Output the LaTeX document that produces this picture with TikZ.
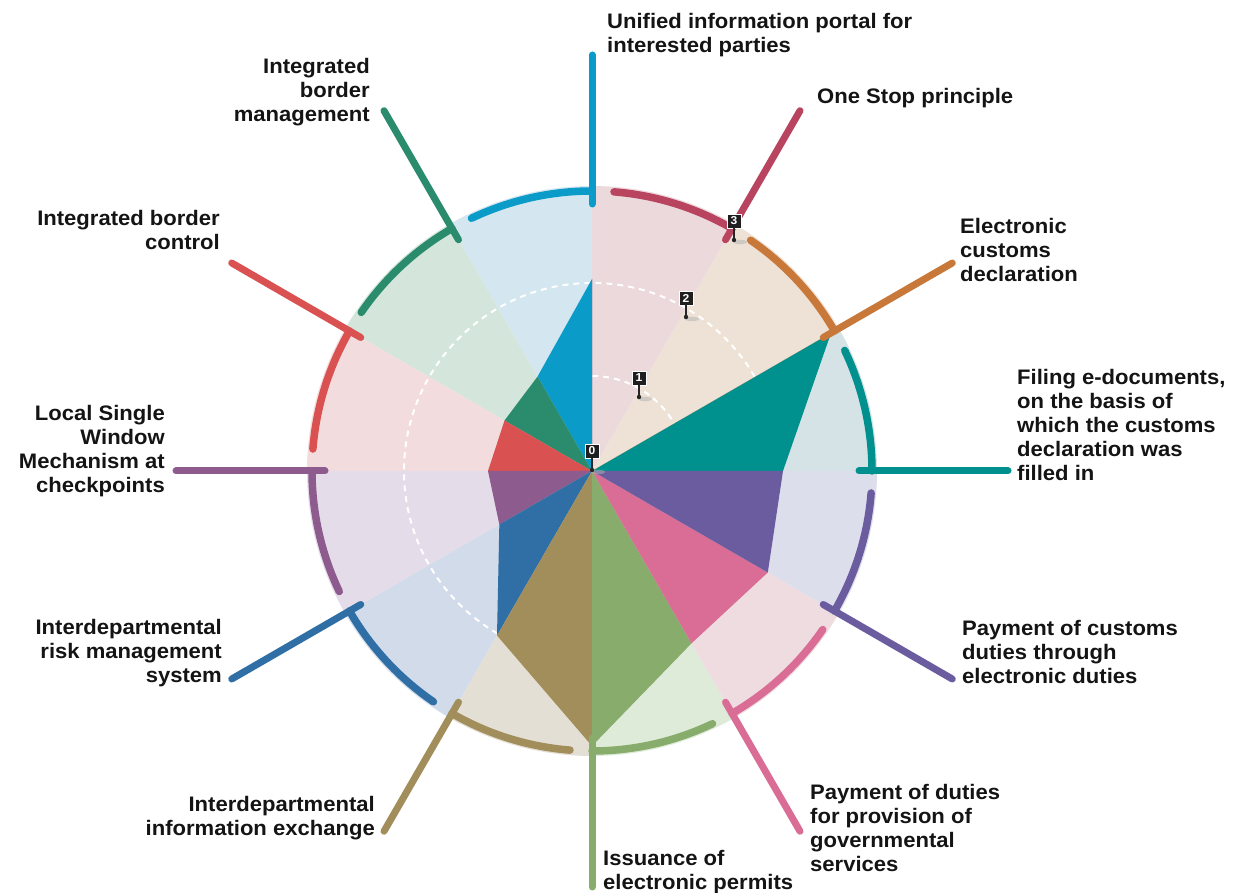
\documentclass[tikz,border=0pt]{standalone}
\usepackage{fontspec}
\newfontfamily\labfont{Liberation Sans}[FakeStretch=1.05]
\definecolor{filS}{HTML}{00918F}\definecolor{filL}{HTML}{D5E3E6}
\definecolor{eleS}{HTML}{C8793A}\definecolor{eleL}{HTML}{EEE2D7}
\definecolor{oneS}{HTML}{B9445F}\definecolor{oneL}{HTML}{EBD9DC}
\definecolor{uniS}{HTML}{0A9BC8}\definecolor{uniL}{HTML}{D4E7F1}
\definecolor{bmS}{HTML}{2A8B6D}\definecolor{bmL}{HTML}{D4E6DB}
\definecolor{bcS}{HTML}{D95150}\definecolor{bcL}{HTML}{F2DCDD}
\definecolor{lswS}{HTML}{8D5B8D}\definecolor{lswL}{HTML}{E5DCE9}
\definecolor{rskS}{HTML}{2F6FA5}\definecolor{rskL}{HTML}{D2DBEA}
\definecolor{infS}{HTML}{A28E5B}\definecolor{infL}{HTML}{E4DFD5}
\definecolor{issS}{HTML}{87AC6C}\definecolor{issL}{HTML}{DEEBD8}
\definecolor{pgS}{HTML}{D96D95}\definecolor{pgL}{HTML}{EEDCE0}
\definecolor{pcS}{HTML}{6B5C9F}\definecolor{pcL}{HTML}{DCDEEC}
\definecolor{txt}{HTML}{141414}
\begin{document}
\begin{tikzpicture}[x=1pt,y=1pt,
  lab/.style={font=\labfont\bfseries\fontsize{21}{24}\selectfont, inner sep=0pt, text=txt},
  labL/.style={lab, anchor=north west, align=left},
  labR/.style={lab, anchor=north east, align=right},
  pinbox/.style={fill=black!88, draw=white, line width=0.6pt, text=white,
    font=\labfont\bfseries\fontsize{11.5}{11.5}\selectfont, minimum width=14pt, minimum height=14pt, inner sep=0pt},
  ringdash/.style={draw=white, line width=2pt, dash pattern=on 6pt off 5pt}]
\useasboundingbox (0,0) rectangle (1248,893);
\fill[white] (0,0) rectangle (1248,893);
\begin{scope}[shift={(592,422)}]
\coordinate (C) at (0,0);
% background sectors
\foreach \a/\cs/\cl/\va/\vb in {0/filS/filL/191/276, 30/eleS/eleL/276/0, 60/oneS/oneL/0/192,
  90/uniS/uniL/192/109, 120/bmS/bmL/109/101, 150/bcS/bcL/101/104, 180/lswS/lswL/104/107,
  210/rskS/rskL/107/190, 240/infS/infL/190/275, 270/issS/issL/275/199, 300/pgS/pgL/199/203,
  330/pcS/pcL/203/191}{
  \fill[\cl] (C) -- (\a:285) arc[start angle=\a, end angle=\a+30, radius=285pt] -- cycle;
}
\draw[ringdash] (C) circle[radius=95pt];
\draw[ringdash] (C) circle[radius=188pt];
% data polygons
\foreach \a/\cs/\cl/\va/\vb in {0/filS/filL/191/276, 30/eleS/eleL/276/0, 60/oneS/oneL/0/192,
  90/uniS/uniL/192/109, 120/bmS/bmL/109/101, 150/bcS/bcL/101/104, 180/lswS/lswL/104/107,
  210/rskS/rskL/107/190, 240/infS/infL/190/275, 270/issS/issL/275/199, 300/pgS/pgL/199/203,
  330/pcS/pcL/203/191}{
  \pgfmathsetmacro\b{\a+30}
  \fill[\cs] (C) -- (\a:\va) -- (\b:\vb) -- cycle;
}
% arcs and spokes
\foreach \a/\cs/\n in {0/filS/1, 30/eleS/2, 60/oneS/3, 90/uniS/4, 120/bmS/5, 150/bcS/6,
  180/lswS/7, 210/rskS/8, 240/infS/9, 270/issS/10, 300/pgS/11, 330/pcS/12}{
  \draw[\cs, line width=7.5pt, line cap=round] (\a:280) arc[start angle=\a, end angle=\a+25.5, radius=280pt];
  \coordinate (in\n) at (\a:267);
  \coordinate (out\n) at (\a:416);
  \draw[\cs, line width=7pt, line cap=round] (in\n) -- (out\n);
}
\end{scope}
% labels
\node[labL] (t4) at (607,880) {Unified information portal for\\interested parties};
\node[labL] (t3) at (817,805) {One Stop principle};
\node[labL] (t2) at (960,675) {Electronic\\customs\\declaration};
\node[labL] (t1) at (1017,524) {Filing e-documents,\\on the basis of\\which the customs\\declaration was\\filled in};
\node[labL] (t12) at (962,273) {Payment of customs\\duties through\\electronic duties};
\node[labL] (t11) at (810,109) {Payment of duties\\for provision of\\governmental\\services};
\node[labL] (t10) at (603,43) {Issuance of\\electronic permits};
\node[labR] (t9) at (375,97) {Interdepartmental\\information exchange};
\node[labR] (t8) at (222,274) {Interdepartmental\\risk management\\system};
\node[labR] (t7) at (165,488) {Local Single\\Window\\Mechanism at\\checkpoints};
\node[labR] (t6) at (220,683) {Integrated border\\control};
\node[labR] (t5) at (370,835) {Integrated\\border\\management};
% scale markers
\foreach \n/\x/\y in {0/592/423, 1/639/496, 2/686/576, 3/734/653}{
  \fill[black!30, opacity=0.5] (\x+6,\y-2) ellipse[x radius=7pt, y radius=2.2pt];
  \coordinate (d\n) at (\x,\y);
  \node[pinbox] (m\n) at (\x,\y+19) {\n};
  \draw[black!85, line width=1.2pt] (m\n.south) -- (d\n);
  \fill[black!85] (d\n) circle[radius=2.2pt];
}
\end{tikzpicture}
\end{document}
